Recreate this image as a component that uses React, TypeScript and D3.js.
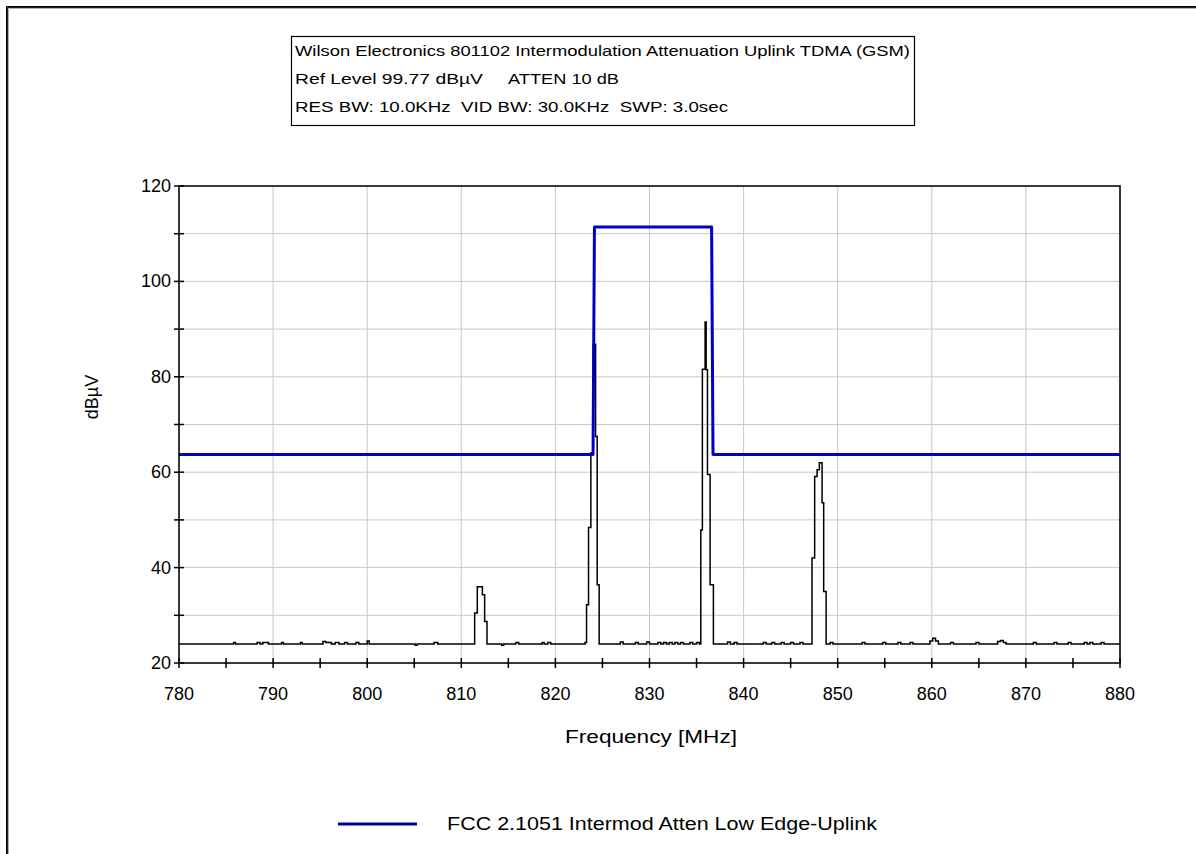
import React from "react";
import * as d3 from "d3";

// ---------- data ----------
const xTicksMajor = [780, 790, 800, 810, 820, 830, 840, 850, 860, 870, 880];
const yTicksMajor = [20, 40, 60, 80, 100, 120];

const limitFreq = [780, 824.0, 824.15, 836.6, 836.75, 880];
const limitLevel = [63.7, 63.7, 111.4, 111.4, 63.7, 63.7];

const traceFreq = [
  780, 785.8, 786.0, 788.3, 788.6, 788.9, 789.5, 790.9, 791.1, 792.9, 793.1,
  795.3, 795.6, 796.2, 796.6, 797.0, 797.6, 797.9, 798.8, 799.1, 800.0, 800.2,
  805.1, 805.3, 807.1, 807.5,
  811.42, 811.7, 812.24, 812.48, 812.73,
  814.3, 814.5, 815.8, 816.1, 818.6, 818.8, 819.2, 819.5, 823.15,
  823.31, 823.52, 823.77, 824.01, 824.27, 824.44, 824.65,
  826.9, 827.2, 828.5, 828.8, 829.7, 830.0, 830.9, 831.2, 831.5, 831.8, 832.1,
  832.4, 832.7, 833.0, 833.3, 833.6, 834.3, 834.6, 835.0, 835.3,
  835.45, 835.62, 835.91, 836.02, 836.16, 836.44, 836.79,
  838.3, 838.6, 839.0, 839.3, 842.1, 842.4, 843.0, 843.3, 844.0, 844.3,
  845.0, 845.3, 846.0, 846.3,
  847.27, 847.55, 847.81, 848.05, 848.34, 848.51, 848.77,
  849.2, 849.5, 852.6, 852.9, 854.8, 855.1, 856.4, 856.7, 857.7, 858.0,
  859.8, 860.1, 860.4, 860.7, 862.0, 862.3, 864.7, 865.0, 867.0, 867.3,
  867.6, 867.9, 870.8, 871.1, 873.0, 873.3, 874.5, 874.8, 876.2, 876.5,
  876.8, 877.1, 878.0, 878.3, 880,
];
const traceLevel = [
  24.0, 24.3, 24.0, 24.3, 24.0, 24.3, 24.0, 24.3, 24.0, 24.3, 24.0,
  24.5, 24.3, 24.0, 24.3, 24.0, 24.3, 24.0, 24.3, 24.0, 24.6, 24.0,
  23.7, 24.0, 24.3, 24.0,
  30.5, 36.0, 34.3, 28.7, 24.0,
  23.7, 24.0, 24.3, 24.0, 24.3, 24.0, 24.3, 24.0, 24.3,
  32.2, 48.4, 64.1, 86.8, 67.5, 36.4, 24.0,
  24.4, 24.0, 24.3, 24.0, 24.4, 24.0, 24.3, 24.0, 24.3, 24.0, 24.3,
  24.0, 24.3, 24.0, 24.3, 24.0, 24.3, 24.0, 24.3, 24.0,
  47.9, 81.6, 91.5, 81.5, 59.5, 36.4, 24.0,
  24.4, 24.0, 24.3, 24.0, 24.3, 24.0, 24.3, 24.0, 24.3, 24.0,
  24.3, 24.0, 24.3, 24.0,
  42.0, 59.1, 60.5, 62.0, 53.6, 35.0, 24.0,
  24.3, 24.0, 24.3, 24.0, 24.3, 24.0, 24.3, 24.0, 24.3, 24.0,
  24.6, 25.2, 24.6, 24.0, 24.3, 24.0, 24.3, 24.0, 24.5, 24.7,
  24.3, 24.0, 24.3, 24.0, 24.3, 24.0, 24.3, 24.0, 24.3, 24.0,
  24.3, 24.0, 24.3, 24.0, 24.0,
];

const titleLines = [
  "Wilson Electronics 801102 Intermodulation Attenuation Uplink TDMA (GSM)",
  "Ref Level 99.77 dBµV",
  "ATTEN 10 dB",
  "RES BW: 10.0KHz  VID BW: 30.0KHz  SWP: 3.0sec",
];
const xAxisTitle = "Frequency [MHz]";
const yAxisTitle = "dBµV";
const legendLabel = "FCC 2.1051 Intermod Atten Low Edge-Uplink";

// ---------- layout ----------
const W = 1196;
const H = 854;
const plot = { left: 179, right: 1120, top: 186, bottom: 663 };
const FONT = "'Liberation Sans', Arial, sans-serif";

export default function App() {
  const x = d3.scaleLinear().domain([780, 880]).range([plot.left, plot.right]);
  const y = d3.scaleLinear().domain([20, 120]).range([plot.bottom, plot.top]);

  const xGrid = d3.range(780, 881, 10);
  const xMinor = d3.range(780, 881, 5);
  const yAll = d3.range(20, 121, 10);

  const limitPts = limitFreq.map((f, i) => [f, limitLevel[i]] as [number, number]);
  const tracePts = traceFreq.map((f, i) => [f, traceLevel[i]] as [number, number]);

  const limitPath = d3
    .line<[number, number]>()
    .x((d) => x(d[0]))
    .y((d) => y(d[1]))(limitPts) as string;
  const tracePath = d3
    .line<[number, number]>()
    .x((d) => x(d[0]))
    .y((d) => y(d[1]))
    .curve(d3.curveStepAfter)(tracePts) as string;

  const pre = { whiteSpace: "pre" } as React.CSSProperties;

  return (
    <svg
      width={W}
      height={H}
      style={{ position: "absolute", left: 0, top: 0, background: "#fff" }}
      fontFamily={FONT}
    >
      <rect x={0} y={0} width={W} height={H} fill="#fff" />
      {/* outer frame */}
      <path d={`M6.5,${H + 10} V6.5 H${W + 10}`} fill="none" stroke="#000" strokeWidth={1} />
      <path d={`M7.5,${H + 10} V7.5 H${W + 10}`} fill="none" stroke="#222" strokeWidth={1} />
      <path d={`M8.5,${H + 10} V8.5 H${W + 10}`} fill="none" stroke="#b0b0b0" strokeWidth={1} />

      {/* title box */}
      <rect x={291.5} y={36.5} width={623} height={89} fill="#fff" stroke="#000" strokeWidth={1.2} />
      <text x={295} y={56} fontSize={15} textLength={615} lengthAdjust="spacingAndGlyphs" fill="#000" style={pre}>
        {titleLines[0]}
      </text>
      <text x={295} y={84} fontSize={15} textLength={188} lengthAdjust="spacingAndGlyphs" fill="#000" style={pre}>
        {titleLines[1]}
      </text>
      <text x={508} y={84} fontSize={15} textLength={111} lengthAdjust="spacingAndGlyphs" fill="#000" style={pre}>
        {titleLines[2]}
      </text>
      <text x={295} y={112} fontSize={15} textLength={433} lengthAdjust="spacingAndGlyphs" fill="#000" style={pre}>
        {titleLines[3]}
      </text>

      {/* grid */}
      {xGrid.map((v) => (
        <line key={"gx" + v} x1={x(v)} x2={x(v)} y1={plot.top} y2={plot.bottom} stroke="#c8c8c8" strokeWidth={1} />
      ))}
      {yAll.map((v) => (
        <line key={"gy" + v} x1={plot.left} x2={plot.right} y1={y(v)} y2={y(v)} stroke="#c8c8c8" strokeWidth={1} />
      ))}

      {/* trace */}
      <path d={tracePath} fill="none" stroke="#000" strokeWidth={1.5} />
      {/* limit line */}
      <path d={limitPath} fill="none" stroke="#0000c8" strokeWidth={3} strokeLinejoin="round" />

      {/* plot border */}
      <rect
        x={plot.left}
        y={plot.top}
        width={plot.right - plot.left}
        height={plot.bottom - plot.top}
        fill="none"
        stroke="#000"
        strokeWidth={1.5}
      />

      {/* x ticks */}
      {xMinor.map((v) => (
        <line key={"tx" + v} x1={x(v)} x2={x(v)} y1={plot.bottom - 5} y2={plot.bottom + 5} stroke="#000" strokeWidth={1.5} />
      ))}
      {xTicksMajor.map((v) => (
        <text key={"lx" + v} x={x(v)} y={700} fontSize={18} textAnchor="middle" fill="#000">
          {v}
        </text>
      ))}
      {/* y ticks */}
      {yAll.map((v) => (
        <line key={"ty" + v} x1={plot.left - 5} x2={plot.left + 5} y1={y(v)} y2={y(v)} stroke="#000" strokeWidth={1.5} />
      ))}
      {yTicksMajor.map((v) => (
        <text key={"ly" + v} x={171} y={y(v) + 6} fontSize={18} textAnchor="end" fill="#000">
          {v}
        </text>
      ))}

      {/* axis titles */}
      <text x={565} y={743} fontSize={18} textLength={172} lengthAdjust="spacingAndGlyphs" fill="#000">
        {xAxisTitle}
      </text>
      <text
        transform={`translate(98,397) rotate(-90)`}
        fontSize={18}
        textAnchor="middle"
        fill="#000"
      >
        {yAxisTitle}
      </text>

      {/* legend */}
      <line x1={338} x2={417} y1={824} y2={824} stroke="#000099" strokeWidth={3} />
      <text x={447} y={830} fontSize={18} textLength={430} lengthAdjust="spacingAndGlyphs" fill="#000">
        {legendLabel}
      </text>
    </svg>
  );
}
